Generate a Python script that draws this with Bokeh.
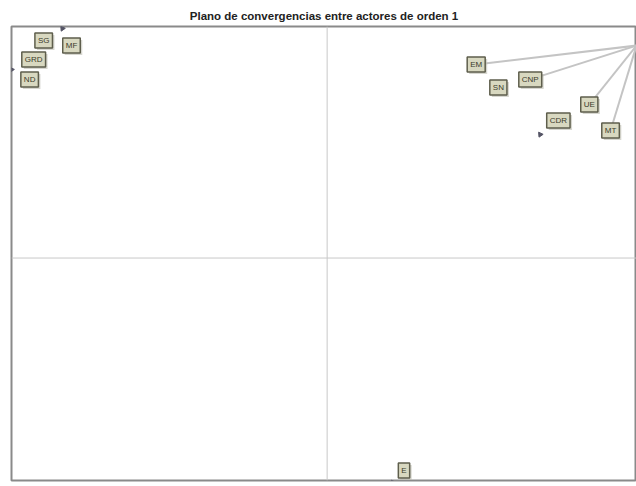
from bokeh.plotting import figure
from bokeh.models import Span, Range1d, ColumnDataSource
from bokeh.core.properties import value
from bokeh.embed import file_html
from bokeh.resources import INLINE

# Actors (labels are abbreviations, positions)
actors = ["SG", "MF", "GRD", "ND", "EM", "SN", "CNP", "UE", "CDR", "MT", "E"]
actor_x = [-0.907, -0.818, -0.939, -0.952, 0.477, 0.548, 0.650, 0.839, 0.740, 0.907, 0.246]
actor_y = [0.958, 0.936, 0.875, 0.787, 0.853, 0.751, 0.787, 0.676, 0.606, 0.562, -0.936]

# Points of the actors (small arrows)
point_x = [-0.847, -1.01, 0.682, 0.211]
point_y = [1.011, 0.83, 0.544, -0.989]

# Convergence links from the hub at the upper right
hub_x, hub_y = 0.99, 0.936
linked = ["EM", "CNP", "UE", "MT"]

title = "Plano de convergencias entre actores de orden 1"

p = figure(width=636, height=486, output_backend="svg", toolbar_location=None,
           x_range=Range1d(-1.01, 0.99), y_range=Range1d(-0.98, 1.02),
           min_border_left=11, min_border_right=0, min_border_bottom=6, min_border_top=26)
p.title.text = title
p.title.align = "center"
p.title.text_font = "Liberation Sans"
p.title.text_font_size = "11.5px"
p.title.text_font_style = "bold"
p.title.text_color = "#222222"
p.axis.visible = False
p.grid.visible = False
p.outline_line_color = "#8a8a8a"
p.outline_line_width = 2

p.add_layout(Span(location=0, dimension="width", line_color="#c8c8c8", line_width=1))
p.add_layout(Span(location=0, dimension="height", line_color="#c8c8c8", line_width=1))

lx, ly = [], []
for name in linked:
    i = actors.index(name)
    lx.append([hub_x, actor_x[i]])
    ly.append([hub_y, actor_y[i]])
p.multi_line(lx, ly, line_color="#c4c4c4", line_width=2)

p.scatter(point_x, point_y, marker="triangle", size=5, color="#555566", angle=0.6)

src = ColumnDataSource(dict(x=actor_x, y=actor_y, t=actors))
# shadow
p.text("x", "y", text="t", source=src, x_offset=2, y_offset=2,
       text_align="center", text_baseline="middle", text_font=value("Liberation Sans"),
       text_font_size="8px", text_color=None, background_fill_color="#bdbdb0",
       background_fill_alpha=0.6, padding=3)
# box
p.text("x", "y", text="t", source=src,
       text_align="center", text_baseline="middle", text_font=value("Liberation Sans"),
       text_font_size="8px", text_color="#3a3a2a", background_fill_color="#d8d8c0",
       border_line_color="#5e5e4c", border_line_width=1.5, padding=3)

open("out.html", "w").write(file_html(p, INLINE))
